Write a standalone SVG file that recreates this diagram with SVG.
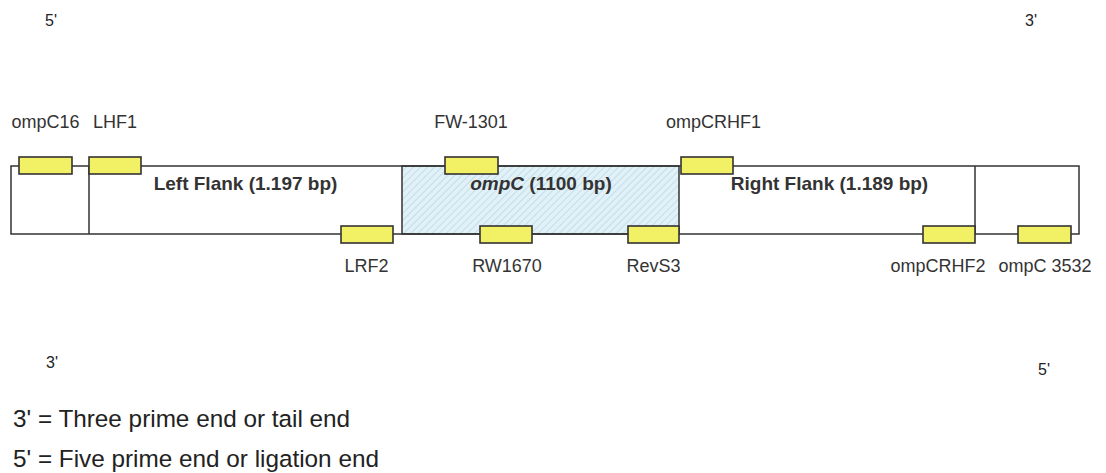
<svg xmlns="http://www.w3.org/2000/svg" width="1106" height="473" viewBox="0 0 1106 473">
<style>
.lbl{font-family:"Liberation Sans",Arial,sans-serif;font-size:18px;fill:#333;text-anchor:middle}
.reg{font-family:"Liberation Sans",Arial,sans-serif;font-weight:bold;font-size:19px;fill:#333;text-anchor:middle}
.end{font-family:"Liberation Sans",Arial,sans-serif;font-size:16px;fill:#222}
.leg{font-family:"Liberation Sans",Arial,sans-serif;font-size:24.3px;fill:#222}
.primer{fill:#f2f064;stroke:#333;stroke-width:1.6}
.wire{fill:none;stroke:#333;stroke-width:1.5}
</style>
<defs>
<pattern id="hatch" width="5" height="5" patternUnits="userSpaceOnUse" patternTransform="rotate(45)">
<rect width="5" height="5" fill="#e2f1f7"/>
<line x1="0" y1="0" x2="0" y2="5" stroke="#b2d6e4" stroke-width="1.4"/>
</pattern>
</defs>
<rect width="1106" height="473" fill="#fff"/>
<g id="ompC-region">
<rect x="402" y="166" width="277" height="68" fill="url(#hatch)" stroke="#333" stroke-width="1.5"/>
<text class="reg" x="541" y="190"><tspan font-style="italic">ompC</tspan> (1100 bp)</text>
</g>
<g id="connectors">
<path class="wire" d="M11,166 H1079 V234 H11 Z"/>
<line class="wire" x1="89" y1="166" x2="89" y2="234"/>
<line class="wire" x1="975" y1="166" x2="975" y2="234"/>
</g>
<g id="left-flank"><text class="reg" x="245.5" y="190">Left Flank (1.197 bp)</text></g>
<g id="right-flank"><text class="reg" x="829.5" y="190">Right Flank (1.189 bp)</text></g>
<g id="ompC16"><rect class="primer" x="19" y="157" width="53" height="17"/><text class="lbl" x="45.5" y="128">ompC16</text></g>
<g id="LHF1"><rect class="primer" x="89" y="157" width="52" height="17"/><text class="lbl" x="115" y="128">LHF1</text></g>
<g id="FW-1301"><rect class="primer" x="445" y="157" width="53" height="17"/><text class="lbl" x="471" y="128">FW-1301</text></g>
<g id="ompCRHF1"><rect class="primer" x="681" y="157" width="52" height="17"/><text class="lbl" x="713.5" y="128">ompCRHF1</text></g>
<g id="LRF2"><rect class="primer" x="341" y="226" width="52" height="17"/><text class="lbl" x="366.5" y="272">LRF2</text></g>
<g id="RW1670"><rect class="primer" x="480" y="226" width="52" height="17"/><text class="lbl" x="507" y="272">RW1670</text></g>
<g id="RevS3"><rect class="primer" x="628" y="226" width="51" height="17"/><text class="lbl" x="653.5" y="272">RevS3</text></g>
<g id="ompCRHF2"><rect class="primer" x="923" y="226" width="52" height="17"/><text class="lbl" x="938" y="272">ompCRHF2</text></g>
<g id="ompC3532"><rect class="primer" x="1018" y="226" width="53" height="17"/><text class="lbl" x="1045" y="272">ompC 3532</text></g>
<g id="ends">
<text class="end" x="45" y="26">5'</text>
<text class="end" x="1025" y="26">3'</text>
<text class="end" x="46" y="368">3'</text>
<text class="end" x="1038" y="375">5'</text>
</g>
<g id="legend">
<text class="leg" x="13" y="427">3' = Three prime end or tail end</text>
<text class="leg" x="13" y="467">5' = Five prime end or ligation end</text>
</g>
</svg>
